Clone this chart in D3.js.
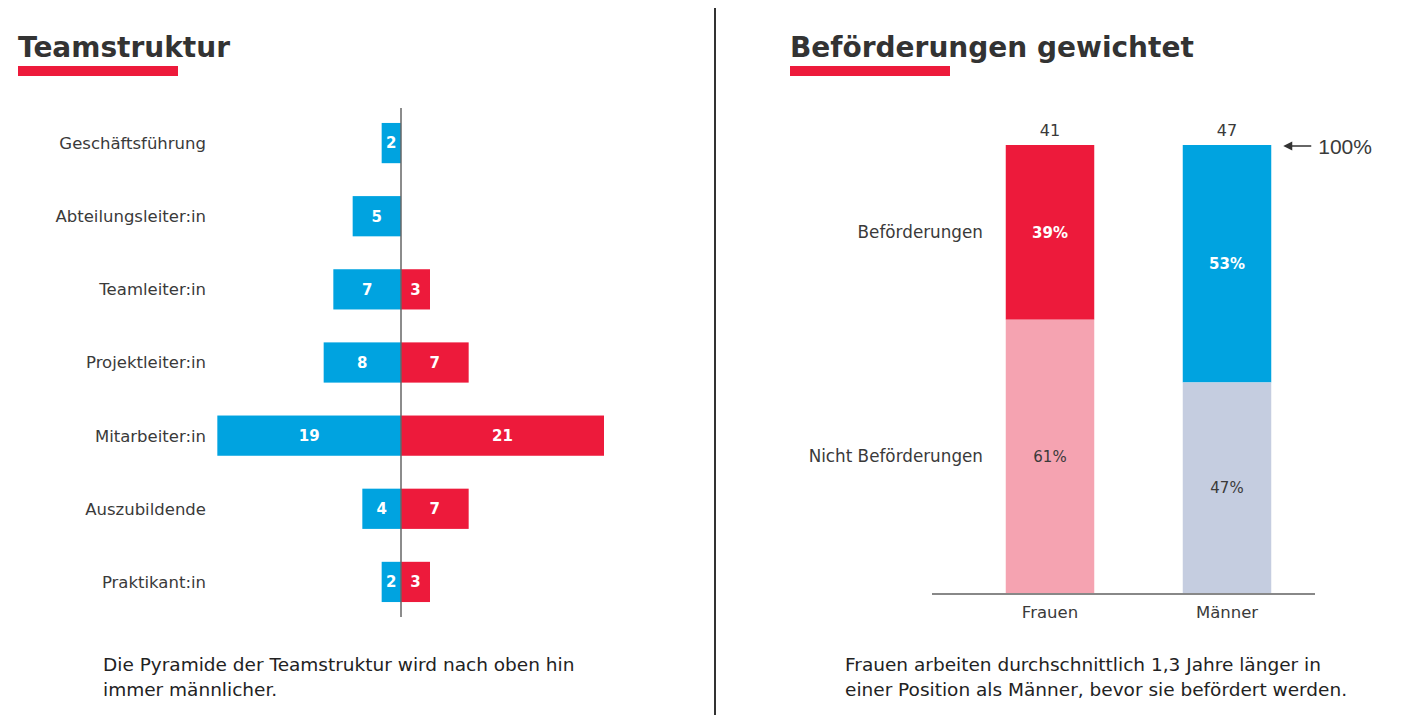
<!DOCTYPE html>
<html>
<head>
<meta charset="utf-8">
<script src="https://cdn.jsdelivr.net/npm/d3@7"></script>
<style>
  body { margin: 0; background: #fff; }
  text { font-family: "DejaVu Sans", sans-serif; fill: #3a3a3a; }
</style>
</head>
<body>
<script>
'use strict';

var roles = ["Geschäftsführung", "Abteilungsleiter:in", "Teamleiter:in", "Projektleiter:in", "Mitarbeiter:in", "Auszubildende", "Praktikant:in"];
var men = [2, 5, 7, 8, 19, 4, 2];
var women = [0, 0, 3, 7, 21, 7, 3];

var groups = ["Frauen", "Männer"];
var totals = [41, 47];
var promoted = [0.39, 0.53];
var segmentNames = ["Beförderungen", "Nicht Beförderungen"];

var RED = "#ed1a3b", BLUE = "#00a3e0", PINK = "#f5a3b1", GREYBLUE = "#c5cde0";

var chart = {};

chart.svg = d3.select("body").append("svg")
    .attr("width", 1413)
    .attr("height", 722);

chart.title = function(x, label){
    chart.svg.append("text")
        .attr("x", x)
        .attr("y", 57)
        .style("font-size", "28px")
        .style("font-weight", "bold")
        .style("fill", "#333")
        .text(label);
    chart.svg.append("rect")
        .attr("x", x)
        .attr("y", 66)
        .attr("width", 160)
        .attr("height", 10)
        .attr("fill", RED);
}

chart.note = function(x, lines){
    chart.svg.append("text")
        .selectAll("tspan")
        .data(lines)
        .enter()
            .append("tspan")
            .attr("x", x)
            .attr("y", function(d, i){ return 671 + i * 25; })
            .style("font-size", "18.5px")
            .style("fill", "#222")
            .text(function(d){ return d; });
}

chart.pyramid = function(){
    var y = d3.scaleBand()
        .domain(roles)
        .range([106.5, 618.5])
        .paddingInner(0.45)
        .paddingOuter(0.225);

    var x = d3.scaleLinear()
        .domain([-21, 21])
        .range([198, 604]);

    var g = chart.svg.append("g");

    var rows = roles.map(function(r, i){
        return { role: r, m: men[i], w: women[i] };
    });

    g.selectAll(".bar-m")
        .data(rows)
        .enter()
            .append("rect")
            .attr("x", function(d){ return x(-d.m); })
            .attr("y", function(d){ return y(d.role); })
            .attr("width", function(d){ return x(0) - x(-d.m); })
            .attr("height", y.bandwidth())
            .attr("fill", BLUE);

    g.selectAll(".bar-w")
        .data(rows.filter(function(d){ return d.w > 0; }))
        .enter()
            .append("rect")
            .attr("x", x(0))
            .attr("y", function(d){ return y(d.role); })
            .attr("width", function(d){ return x(d.w) - x(0); })
            .attr("height", y.bandwidth())
            .attr("fill", RED);

    g.selectAll(".lab-m")
        .data(rows)
        .enter()
            .append("text")
            .attr("x", function(d){ return (x(-d.m) + x(0)) / 2; })
            .attr("y", function(d){ return y(d.role) + y.bandwidth() / 2; })
            .attr("dy", "0.36em")
            .attr("text-anchor", "middle")
            .style("font-size", "15px")
            .style("font-weight", "bold")
            .style("fill", "#fff")
            .text(function(d){ return d.m; });

    g.selectAll(".lab-w")
        .data(rows.filter(function(d){ return d.w > 0; }))
        .enter()
            .append("text")
            .attr("x", function(d){ return (x(d.w) + x(0)) / 2; })
            .attr("y", function(d){ return y(d.role) + y.bandwidth() / 2; })
            .attr("dy", "0.36em")
            .attr("text-anchor", "middle")
            .style("font-size", "15px")
            .style("font-weight", "bold")
            .style("fill", "#fff")
            .text(function(d){ return d.w; });

    g.append("line")
        .attr("x1", x(0)).attr("x2", x(0))
        .attr("y1", 108).attr("y2", 617)
        .attr("stroke", "#666")
        .attr("stroke-width", 1.5);

    g.selectAll(".role")
        .data(roles)
        .enter()
            .append("text")
            .attr("x", 206)
            .attr("y", function(d){ return y(d) + y.bandwidth() / 2; })
            .attr("dy", "0.36em")
            .attr("text-anchor", "end")
            .style("font-size", "16.5px")
            .text(function(d){ return d; });
}

chart.promotions = function(){
    var x = d3.scaleBand()
        .domain(groups)
        .range([961.5, 1315.5])
        .paddingInner(0.5)
        .paddingOuter(0.25);

    var y = d3.scaleLinear()
        .domain([0, 1])
        .range([593, 145]);

    var g = chart.svg.append("g");

    var segs = [];
    groups.forEach(function(grp, i){
        segs.push({ grp: grp, lo: 1 - promoted[i], hi: 1, v: promoted[i], fill: i === 0 ? RED : BLUE, txt: "#fff", bold: true });
        segs.push({ grp: grp, lo: 0, hi: 1 - promoted[i], v: 1 - promoted[i], fill: i === 0 ? PINK : GREYBLUE, txt: "#3a3a3a", bold: false });
    });

    g.selectAll(".seg")
        .data(segs)
        .enter()
            .append("rect")
            .attr("x", function(d){ return x(d.grp); })
            .attr("y", function(d){ return y(d.hi); })
            .attr("width", x.bandwidth())
            .attr("height", function(d){ return y(d.lo) - y(d.hi); })
            .attr("fill", function(d){ return d.fill; });

    g.selectAll(".seg-label")
        .data(segs)
        .enter()
            .append("text")
            .attr("x", function(d){ return x(d.grp) + x.bandwidth() / 2; })
            .attr("y", function(d){ return (y(d.lo) + y(d.hi)) / 2; })
            .attr("dy", "0.36em")
            .attr("text-anchor", "middle")
            .style("font-size", "15px")
            .style("font-weight", function(d){ return d.bold ? "bold" : "normal"; })
            .style("fill", function(d){ return d.txt; })
            .text(function(d){ return Math.round(d.v * 100) + "%"; });

    g.selectAll(".total")
        .data(groups)
        .enter()
            .append("text")
            .attr("x", function(d){ return x(d) + x.bandwidth() / 2; })
            .attr("y", y(1) - 9)
            .attr("text-anchor", "middle")
            .style("font-size", "16px")
            .text(function(d, i){ return totals[i]; });

    g.append("line")
        .attr("x1", 932).attr("x2", 1315)
        .attr("y1", y(0) + 1).attr("y2", y(0) + 1)
        .attr("stroke", "#888")
        .attr("stroke-width", 2);

    g.selectAll(".cat")
        .data(groups)
        .enter()
            .append("text")
            .attr("x", function(d){ return x(d) + x.bandwidth() / 2; })
            .attr("y", y(0) + 25)
            .attr("text-anchor", "middle")
            .style("font-size", "16.5px")
            .text(function(d){ return d; });

    // row labels sit at the middle of the Frauen segments
    var f = promoted[0];
    g.selectAll(".seg-name")
        .data(segmentNames)
        .enter()
            .append("text")
            .attr("x", 983)
            .attr("y", function(d, i){ return i === 0 ? (y(1) + y(1 - f)) / 2 : (y(1 - f) + y(0)) / 2; })
            .attr("dy", "0.36em")
            .attr("text-anchor", "end")
            .style("font-size", "16.8px")
            .text(function(d){ return d; });

    // 100% marker
    var ay = y(1) + 1;
    var ax = x("Männer") + x.bandwidth() + 12;
    g.append("line")
        .attr("x1", ax + 6).attr("x2", ax + 28)
        .attr("y1", ay).attr("y2", ay)
        .attr("stroke", "#333")
        .attr("stroke-width", 1.5);
    g.append("path")
        .attr("d", "M" + ax + "," + ay + "L" + (ax + 9) + "," + (ay - 4.5) + "L" + (ax + 9) + "," + (ay + 4.5) + "Z")
        .attr("fill", "#333");
    g.append("text")
        .attr("x", ax + 35)
        .attr("y", ay)
        .attr("dy", "0.36em")
        .style("font-family", "'Liberation Sans Narrow', 'Liberation Sans', sans-serif")
        .style("font-size", "21px")
        .text("100%");
}

chart.run = function(){
    chart.title(18, "Teamstruktur");
    chart.title(790, "Beförderungen gewichtet");

    chart.svg.append("line")
        .attr("x1", 715).attr("x2", 715)
        .attr("y1", 8).attr("y2", 715)
        .attr("stroke", "#333")
        .attr("stroke-width", 2);

    chart.pyramid();
    chart.promotions();

    chart.note(103, ["Die Pyramide der Teamstruktur wird nach oben hin", "immer männlicher."]);
    chart.note(845, ["Frauen arbeiten durchschnittlich 1,3 Jahre länger in", "einer Position als Männer, bevor sie befördert werden."]);
}

chart.run();
</script>
</body>
</html>
